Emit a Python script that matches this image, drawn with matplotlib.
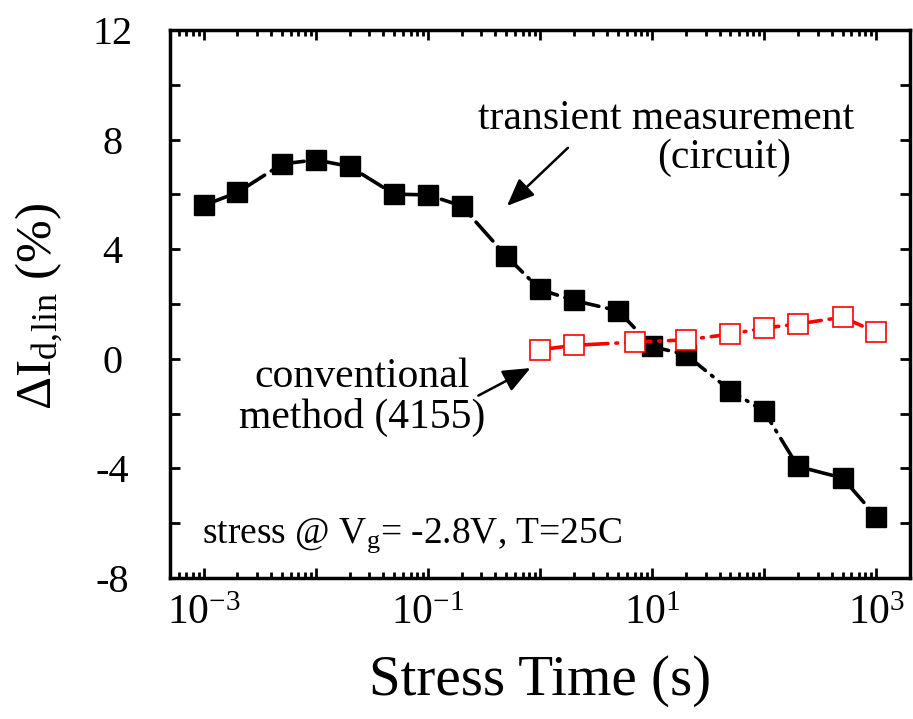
import numpy as np
import matplotlib
matplotlib.use('Agg')
from matplotlib import pyplot as plt
from matplotlib.ticker import LogLocator, FuncFormatter, NullFormatter, MultipleLocator

plt.rcParams['font.family'] = 'Liberation Serif'
plt.rcParams['mathtext.fontset'] = 'custom'
plt.rcParams['mathtext.rm'] = 'Liberation Serif'
plt.rcParams['mathtext.it'] = 'Liberation Serif:italic'
plt.rcParams['axes.unicode_minus'] = False

# transient measurement (circuit), filled squares
t_circuit = [1e-3, 2e-3, 5e-3, 1e-2, 2e-2, 5e-2, 0.1, 0.2, 0.5, 1, 2, 5, 10, 20, 50, 100, 200, 500, 1000]
d_circuit = [5.60, 6.07, 7.11, 7.26, 7.02, 6.01, 5.98, 5.58, 3.75, 2.53, 2.13, 1.75, 0.45, 0.15,
             -1.16, -1.92, -3.93, -4.35, -5.76]

# conventional method (4155), open squares
t_4155 = [1, 2, 7, 20, 50, 100, 200, 500, 1000]
d_4155 = [0.33, 0.49, 0.61, 0.69, 0.90, 1.12, 1.27, 1.52, 0.97]

yticks = [-8, -4, 0, 4, 8, 12]
xlabel_exps = [-3, -1, 1, 3]

fig = plt.figure(figsize=(9.13, 7.19), dpi=100)
ax = fig.add_axes([0.1862, 0.1961, 0.8105, 0.7622])

dash = (7, 2.2, 0.5, 2.2)
ax.plot(t_circuit, d_circuit, color='black', lw=2.6, dashes=dash, dash_capstyle='round',
        marker='s', ms=15, mfc='black', mec='black', zorder=3)
ax.plot(t_4155, d_4155, color='red', lw=2.6, dashes=dash, dash_capstyle='round',
        marker='s', ms=14.5, mfc='white', mec='red', mew=1.2, zorder=4)

ax.set_xscale('log')
ax.set_xlim(5e-4, 2e3)
ax.set_ylim(-8, 12)

ax.xaxis.set_major_locator(LogLocator(base=10, numticks=20))
ax.xaxis.set_minor_locator(LogLocator(base=10, subs=np.arange(2, 10), numticks=20))
ax.xaxis.set_minor_formatter(NullFormatter())


def xfmt(v, pos):
    e = int(round(np.log10(v)))
    return '$10^{%d}$' % e if e in xlabel_exps else ''


ax.xaxis.set_major_formatter(FuncFormatter(xfmt))
ax.set_yticks(yticks)
ax.yaxis.set_minor_locator(MultipleLocator(2))

for s in ax.spines.values():
    s.set_linewidth(2.5)
ax.tick_params(which='both', direction='in', top=True, right=True, width=2)
ax.tick_params(axis='x', which='major', length=7, labelsize=30, pad=12)
ax.tick_params(axis='x', which='minor', length=4)
ax.tick_params(axis='y', which='both', length=7)
ax.tick_params(axis='y', which='major', labelsize=29, pad=41.5)
for lab in ax.get_yticklabels():
    lab.set_horizontalalignment('center')

ax.set_xlabel('Stress Time (s)', fontsize=41, labelpad=16)
ax.set_ylabel('ΔI$_{\\mathrm{d,\\!lin}}$ (%)', fontsize=37)
ax.yaxis.set_label_coords(-0.142, 0.495)

# annotations
ax.text(0.416, 0.819, 'transient measurement', transform=ax.transAxes, fontsize=30, va='baseline')
ax.text(0.658, 0.748, '(circuit)', transform=ax.transAxes, fontsize=30, va='baseline')
ax.annotate('', xy=(0.487, 5.51), xytext=(1.85, 7.77),
            arrowprops=dict(arrowstyle='-|>,head_length=0.6,head_width=0.25', color='black',
                            lw=1.8, mutation_scale=28))

ax.text(0.2595, 0.3485, 'conventional', transform=ax.transAxes, fontsize=30, ha='center', va='baseline')
ax.text(0.2595, 0.2737, 'method (4155)', transform=ax.transAxes, fontsize=30, ha='center', va='baseline')
ax.annotate('', xy=(0.866, -0.29), xytext=(0.268, -1.39),
            arrowprops=dict(arrowstyle='-|>,head_length=0.6,head_width=0.25', color='black',
                            lw=1.8, mutation_scale=28))

ax.text(0.0432, 0.0639, 'stress @ V$_{\\mathrm{g}}$= -2.8V, T=25C', transform=ax.transAxes,
        fontsize=27, va='baseline')

fig.savefig('out.png', dpi=100)
